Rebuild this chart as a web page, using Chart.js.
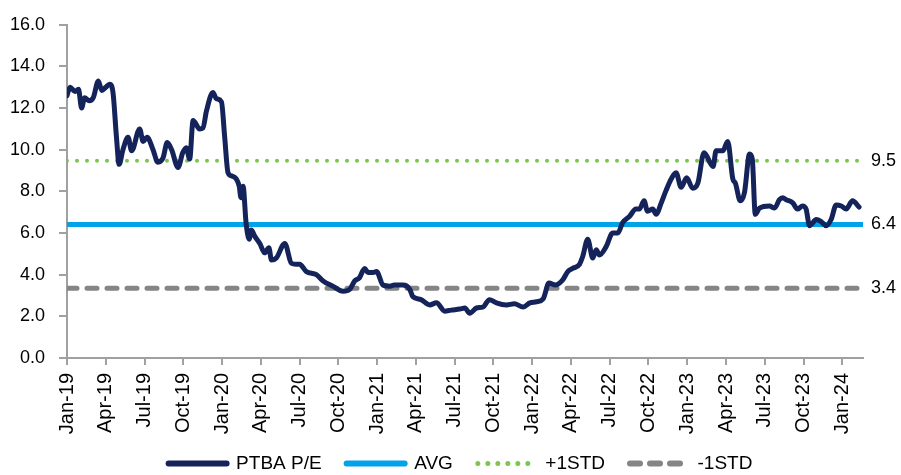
<!DOCTYPE html>
<html>
<head>
<meta charset="utf-8">
<script src="https://cdn.jsdelivr.net/npm/chart.js@4.4.1/dist/chart.umd.min.js"></script>
<style>
  html, body { margin: 0; padding: 0; background: #fff; }
  #wrap { width: 901px; height: 475px; }
</style>
</head>
<body>
<div id="wrap"><canvas id="peChart" width="901" height="475"></canvas></div>
<script>
'use strict';

// x tick labels (quarterly, one every 3 months from Jan-19)
const xTickLabels = ['Jan-19', 'Apr-19', 'Jul-19', 'Oct-19', 'Jan-20', 'Apr-20', 'Jul-20', 'Oct-20',
  'Jan-21', 'Apr-21', 'Jul-21', 'Oct-21', 'Jan-22', 'Apr-22', 'Jul-22', 'Oct-22',
  'Jan-23', 'Apr-23', 'Jul-23', 'Oct-23', 'Jan-24'];

// PTBA P/E
const dates = [
  '2019-01-01', '2019-01-08', '2019-01-20', '2019-01-28', '2019-02-05', '2019-02-12', '2019-02-23', '2019-03-02',
  '2019-03-14', '2019-03-22', '2019-04-01', '2019-04-10', '2019-04-18', '2019-04-26', '2019-05-02', '2019-05-11',
  '2019-05-23', '2019-06-01', '2019-06-20', '2019-06-28', '2019-07-07', '2019-07-21', '2019-08-02', '2019-08-14',
  '2019-08-24', '2019-09-04', '2019-09-19', '2019-09-30', '2019-10-08', '2019-10-16', '2019-10-24', '2019-11-09',
  '2019-11-17', '2019-11-25', '2019-12-10', '2019-12-18', '2019-12-30', '2020-01-07', '2020-01-15', '2020-01-23',
  '2020-02-04', '2020-02-11', '2020-02-15', '2020-02-20', '2020-02-27', '2020-03-04', '2020-03-09', '2020-03-17',
  '2020-03-29', '2020-04-10', '2020-04-20', '2020-04-26', '2020-05-07', '2020-05-27', '2020-06-12', '2020-06-23',
  '2020-07-01', '2020-07-17', '2020-08-10', '2020-08-26', '2020-09-18', '2020-10-12', '2020-10-28', '2020-11-09',
  '2020-11-20', '2020-12-02', '2020-12-10', '2020-12-22', '2020-12-30', '2021-01-15', '2021-01-31', '2021-02-11',
  '2021-03-01', '2021-03-17', '2021-03-24', '2021-04-13', '2021-05-03', '2021-05-19', '2021-06-08', '2021-06-23',
  '2021-07-13', '2021-07-25', '2021-08-06', '2021-08-22', '2021-09-07', '2021-09-22', '2021-10-08', '2021-11-01',
  '2021-11-20', '2021-12-10', '2021-12-26', '2022-01-11', '2022-01-27', '2022-02-10', '2022-02-25', '2022-03-12',
  '2022-03-24', '2022-04-05', '2022-04-21', '2022-04-29', '2022-05-10', '2022-05-22', '2022-05-30', '2022-06-07',
  '2022-06-23', '2022-07-08', '2022-07-20', '2022-08-01', '2022-08-17', '2022-09-02', '2022-09-10', '2022-09-21',
  '2022-09-29', '2022-10-11', '2022-10-19', '2022-10-31', '2022-11-12', '2022-11-24', '2022-12-05', '2022-12-17',
  '2022-12-30', '2023-01-14', '2023-01-26', '2023-02-10', '2023-03-01', '2023-03-08', '2023-03-24', '2023-04-05',
  '2023-04-17', '2023-04-23', '2023-05-04', '2023-05-14', '2023-05-26', '2023-06-02', '2023-06-09', '2023-06-19',
  '2023-07-12', '2023-07-24', '2023-08-05', '2023-08-13', '2023-08-21', '2023-09-06', '2023-09-17', '2023-09-29',
  '2023-10-07', '2023-10-15', '2023-10-31', '2023-11-12', '2023-11-24', '2023-12-05', '2023-12-17', '2023-12-29',
  '2024-01-10', '2024-01-25', '2024-02-10'
];
const ptbaPE = [
  12.6, 13.0, 12.8, 12.9, 12.0, 12.5, 12.35, 12.5,
  13.3, 12.85, 13.0, 13.15, 12.75, 10.65, 9.3, 10.0,
  10.6, 9.95, 11.0, 10.4, 10.6, 10.0, 9.4, 9.6,
  10.35, 10.0, 9.15, 9.85, 10.1, 9.55, 11.4, 11.0,
  11.05, 11.85, 12.75, 12.45, 12.3, 10.65, 8.9, 8.75,
  8.6, 8.25, 7.7, 8.25, 6.5, 5.7, 6.15, 5.85,
  5.5, 5.05, 5.3, 4.7, 4.8, 5.5, 4.55, 4.5,
  4.5, 4.15, 4.0, 3.7, 3.45, 3.2, 3.3, 3.7,
  3.85, 4.3, 4.1, 4.1, 4.15, 3.5, 3.45, 3.5,
  3.5, 3.3, 2.95, 2.8, 2.55, 2.65, 2.25, 2.3,
  2.35, 2.4, 2.15, 2.4, 2.45, 2.8, 2.65, 2.55,
  2.6, 2.45, 2.65, 2.7, 2.85, 3.6, 3.5, 3.75,
  4.15, 4.3, 4.5, 4.9, 5.7, 4.8, 5.2, 4.95,
  5.35, 6.0, 6.0, 6.5, 6.8, 7.15, 7.15, 7.55,
  7.05, 7.15, 6.9, 7.45, 8.05, 8.6, 8.9, 8.2,
  8.65, 8.15, 8.4, 9.85, 9.2, 9.95, 9.95, 10.4,
  8.6, 8.4, 7.55, 7.95, 9.8, 9.55, 6.9, 7.2,
  7.3, 7.2, 7.6, 7.7, 7.6, 7.45, 7.15, 7.3,
  7.15, 6.35, 6.65, 6.55, 6.35, 6.65, 7.35, 7.3,
  7.15, 7.55, 7.25
];

// average and +/- 1 std lines, with the labels printed on the right
const bandNames = ['AVG', '+1STD', '-1STD'];
const bandValues = [6.41, 9.47, 3.35];
const bandLabels = ['6.4', '9.5', '3.4'];

const xMax = 61.6; // axis runs a little past Jan-24

// months since Jan-19
function toMonths(d) {
  const [y, m, day] = d.split('-').map(Number);
  return (y - 2019) * 12 + (m - 1) + (day - 1) / 30.4;
}

const pePoints = dates.map((d, i) => ({x: toMonths(d), y: ptbaPE[i]}));
const flat = v => [{x: 0, y: v}, {x: xMax, y: v}];

Chart.defaults.font.family = 'Arial, sans-serif';
Chart.defaults.font.size = 19;
Chart.defaults.color = '#000';

// value labels right of the plot; also nudge the legend right and
// let the x labels run below the axis box (they get clipped otherwise)
const sideLabels = {
  id: 'sideLabels',
  afterLayout(chart) {
    chart.legend.left += 24;
    chart.legend.right += 24;
    chart.scales.x.bottom = chart.height;
  },
  afterDraw(chart) {
    const {ctx, chartArea, scales} = chart;
    ctx.save();
    ctx.font = '18px Arial, sans-serif';
    ctx.fillStyle = '#000';
    ctx.textAlign = 'left';
    ctx.textBaseline = 'middle';
    bandValues.forEach((v, i) => {
      ctx.fillText(bandLabels[i], chartArea.right + 8, scales.y.getPixelForValue(v));
    });
    ctx.restore();
  }
};

const ctx = document.getElementById('peChart');
const myChart = new Chart(ctx, {
  type: 'line',
  data: {
    datasets: [
      {
        label: 'PTBA P/E',
        data: pePoints,
        borderColor: '#14245a',
        borderWidth: 5,
        borderCapStyle: 'round',
        borderJoinStyle: 'round',
        pointRadius: 0,
        tension: 0.25,
        cubicInterpolationMode: 'monotone'
      },
      {
        label: bandNames[0],
        data: flat(bandValues[0]),
        borderColor: '#00a2e8',
        borderWidth: 5,
        pointRadius: 0
      },
      {
        label: bandNames[1],
        data: flat(bandValues[1]),
        borderColor: '#7cc650',
        borderWidth: 4,
        borderDash: [0, 10],
        borderCapStyle: 'round',
        pointRadius: 0
      },
      {
        label: bandNames[2],
        data: flat(bandValues[2]),
        borderColor: '#858585',
        borderWidth: 5,
        borderDash: [10, 10],
        borderCapStyle: 'round',
        pointRadius: 0
      }
    ]
  },
  options: {
    responsive: false,
    animation: false,
    layout: {
      padding: {top: 22, right: 38, left: 10, bottom: -8}
    },
    scales: {
      x: {
        type: 'linear',
        min: 0,
        max: xMax,
        afterBuildTicks: axis => {
          axis.ticks = xTickLabels.map((t, i) => ({value: i * 3}));
        },
        afterFit: axis => {
          axis.height = 71;
        },
        ticks: {
          autoSkip: false,
          maxRotation: 90,
          minRotation: 90,
          padding: 8,
          font: {size: 20},
          callback: (value, index) => xTickLabels[index]
        },
        grid: {
          drawOnChartArea: false,
          tickLength: 7,
          color: '#a0a0a0',
          lineWidth: 2
        },
        border: {color: '#a0a0a0', width: 2}
      },
      y: {
        min: 0,
        max: 16,
        afterFit: axis => {
          axis.width = 57;
        },
        ticks: {
          stepSize: 2,
          padding: 14,
          font: {size: 18},
          callback: v => v.toFixed(1)
        },
        grid: {
          drawOnChartArea: false,
          tickLength: 8,
          color: '#a0a0a0',
          lineWidth: 2
        },
        border: {color: '#a0a0a0', width: 2}
      }
    },
    plugins: {
      tooltip: {enabled: false},
      legend: {
        position: 'bottom',
        labels: {
          usePointStyle: true,
          pointStyleWidth: 58,
          padding: 25,
          generateLabels: chart => chart.data.datasets.map((ds, i) => ({
            text: ds.label,
            datasetIndex: i,
            pointStyle: 'line',
            strokeStyle: ds.borderColor,
            fillStyle: ds.borderColor,
            lineWidth: ds.borderWidth + 1,
            lineDash: ds.borderDash || [],
            lineCap: ds.borderCapStyle || 'round',
            fontColor: '#000',
            hidden: false
          }))
        }
      }
    }
  },
  plugins: [sideLabels]
});
</script>
</body>
</html>
